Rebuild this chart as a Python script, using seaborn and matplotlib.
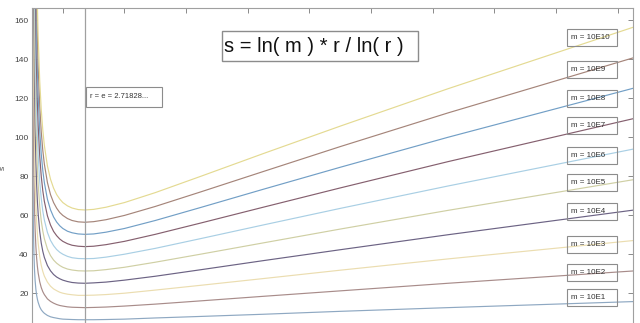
import numpy as np
import pandas as pd
import matplotlib
matplotlib.use("Agg")
import matplotlib.pyplot as plt
from matplotlib.patches import Rectangle
import seaborn as sns

# ---- data ----
r_vals = [1.01, 1.02, 1.03, 1.045, 1.06, 1.08, 1.1, 1.125, 1.15, 1.175, 1.2,
          1.25, 1.3, 1.35, 1.4, 1.5, 1.6, 1.7, 1.8, 1.9, 2.0, 2.15, 2.3, 2.5,
          2.718, 3.0, 3.4, 4, 5, 6.5, 8.5, 11, 14.5, 20.5]

m_labels = ["m = 10E1", "m = 10E2", "m = 10E3", "m = 10E4", "m = 10E5",
            "m = 10E6", "m = 10E7", "m = 10E8", "m = 10E9", "m = 10E10"]

s_m1 = [233.7, 118.6, 80.3, 54.7, 41.9, 32.3, 26.6, 22.0, 18.9, 16.8, 15.2,
        12.9, 11.4, 10.4, 9.6, 8.5, 7.8, 7.4, 7.1, 6.8, 6.6, 6.5, 6.4, 6.3,
        6.3, 6.3, 6.4, 6.6, 7.2, 8.0, 9.1, 10.6, 12.5, 15.6]
s_m2 = [467, 237.2, 160.5, 109.3, 83.8, 64.6, 53.1, 44.0, 37.9, 33.6, 30.3,
        25.8, 22.8, 20.7, 19.2, 17.0, 15.7, 14.8, 14.1, 13.6, 13.3, 12.9, 12.7, 12.6,
        12.5, 12.6, 12.8, 13.3, 14.3, 16.0, 18.3, 21.1, 25.0, 31.3]
s_m3 = [701, 355.8, 240.7, 164.0, 125.7, 96.9, 79.7, 66.0, 56.8, 50.3, 45.5,
        38.7, 34.2, 31.1, 28.7, 25.6, 23.5, 22.1, 21.2, 20.4, 19.9, 19.4, 19.1, 18.8,
        18.8, 18.9, 19.2, 19.9, 21.5, 24.0, 27.4, 31.7, 37.5, 46.9]
s_m4 = [935, 474.4, 321, 218.6, 167.5, 129.2, 106.3, 88.0, 75.8, 67.1, 60.6,
        51.6, 45.6, 41.4, 38.3, 34.1, 31.4, 29.5, 28.2, 27.3, 26.6, 25.9, 25.4, 25.1,
        25.0, 25.2, 25.6, 26.6, 28.6, 32.0, 36.6, 42.2, 49.9, 62.5]
s_m5 = [1169, 593.0, 401, 273.3, 209.4, 161.6, 132.9, 110.0, 94.7, 83.9, 75.8,
        64.5, 57.0, 51.8, 47.9, 42.6, 39.2, 36.9, 35.3, 34.1, 33.2, 32.3, 31.8, 31.4,
        31.3, 31.4, 32.0, 33.2, 35.8, 40.0, 45.7, 52.8, 62.4, 78.1]
s_m6 = [1402, 711.6, 481, 328.0, 251.3, 193.9, 159.4, 132.0, 113.7, 100.7, 90.9,
        77.4, 68.5, 62.1, 57.5, 51.1, 47.0, 44.3, 42.3, 40.9, 39.9, 38.8, 38.1, 37.7,
        37.6, 37.7, 38.4, 39.9, 42.9, 48.0, 54.9, 63.4, 74.9, 93.8]
s_m7 = [1636, 830.2, 562, 382.6, 293.2, 226.2, 186.0, 153.9, 132.6, 117.4, 106.1,
        90.3, 79.9, 72.5, 67.1, 59.6, 54.9, 51.6, 49.4, 47.7, 46.5, 45.3, 44.5, 44.0,
        43.8, 44.0, 44.8, 46.5, 50.1, 56.0, 64.0, 73.9, 87.4, 109.4]
s_m8 = [1870, 948.8, 642, 437.3, 335.1, 258.5, 212.6, 175.9, 151.6, 134.2, 121.2,
        103.2, 91.3, 82.9, 76.7, 68.1, 62.7, 59.0, 56.4, 54.5, 53.1, 51.7, 50.9, 50.3,
        50.1, 50.3, 51.2, 53.1, 57.2, 64.0, 73.2, 84.5, 99.9, 125.0]
s_m9 = [2103, 1067.5, 722, 492.0, 377.0, 290.8, 239.1, 197.9, 170.5, 151.0, 136.4,
        116.1, 102.7, 93.2, 86.2, 76.7, 70.5, 66.4, 63.5, 61.3, 59.8, 58.2, 57.2, 56.5,
        56.3, 56.6, 57.6, 59.8, 64.4, 72.0, 82.3, 95.1, 112.4, 140.6]
s_m10 = [2337, 1186.1, 802, 546.6, 418.8, 323.1, 265.7, 219.9, 189.5, 167.8, 151.6,
         129.0, 114.1, 103.6, 95.8, 85.2, 78.4, 73.8, 70.5, 68.2, 66.4, 64.7, 63.6, 62.8,
         62.6, 62.9, 64.0, 66.4, 71.5, 80.0, 91.5, 105.6, 124.8, 156.3]

series = [s_m1, s_m2, s_m3, s_m4, s_m5, s_m6, s_m7, s_m8, s_m9, s_m10]

y_ticks = [20, 40, 60, 80, 100, 120, 140, 160]
x_ticks = [2, 4, 6, 8, 10, 12, 14, 16, 18, 20]

# ---- styling ----
sns.set_theme(style="white")
plt.rcParams["font.family"] = ["Liberation Sans", "DejaVu Sans"]

colors = ["#8ea8c2", "#a88c8a", "#ebddb0", "#6c6384", "#cfcfa4",
          "#a9cfe4", "#85606f", "#729fc6", "#a5857a", "#e4da92"]

rows = []
for lab, vals in zip(m_labels, series):
    for rv, sv in zip(r_vals, vals):
        rows.append({"r": rv, "s": sv, "m": lab})
df = pd.DataFrame(rows)

fig = plt.figure(figsize=(6.4, 3.23), dpi=100)
W, H = 640, 323
ax = fig.add_axes([32 / W, -9 / H, 601 / W, 324 / H])

sns.lineplot(data=df, x="r", y="s", hue="m", hue_order=m_labels,
             palette=colors, legend=False, estimator=None, sort=False,
             linewidth=0.85, ax=ax)

ax.set_xlim(1, 20.5)
ax.set_ylim(0, 166.2)
ax.axvline(np.e, color="#a0a0a0", linewidth=0.9)

ax.set_yticks(y_ticks)
ax.set_yticklabels([str(t) for t in y_ticks])
ax.set_xticks(x_ticks)
ax.tick_params(axis="both", direction="in", length=3.5, width=0.7,
               color="#8a8a8a", labelsize=6, labelcolor="#444444", pad=2.5,
               top=True, right=True, bottom=True, left=True,
               labelbottom=False)
for sp in ax.spines.values():
    sp.set_color("#a0a0a0")
    sp.set_linewidth(0.8)

ax.set_xlabel("")
ax.set_ylabel("s", fontsize=6, color="#444444")
ax.yaxis.set_label_coords(-0.042, 0.506)

def fx(px):
    return px / W

def fy(py):
    return 1 - py / H

# title box
fig.patches.append(Rectangle((fx(222), fy(61)), (418 - 222) / W, 30 / H,
                             transform=fig.transFigure, fill=True,
                             facecolor="white", edgecolor="#8c8c8c",
                             linewidth=1.0))
fig.text(fx(224), fy(46), "s = ln( m ) * r / ln( r )", fontsize=14.5,
         ha="left", va="center", color="#111111")

# r = e box
fig.patches.append(Rectangle((fx(86), fy(107)), 76 / W, 20 / H,
                             transform=fig.transFigure, fill=True,
                             facecolor="white", edgecolor="#8c8c8c",
                             linewidth=0.8))
fig.text(fx(90), fy(97), "r = e = 2.71828...", fontsize=5.5,
         ha="left", va="center", color="#333333")

# m label boxes
box_tops = [289, 264, 236, 203, 174, 147, 117, 90, 61, 29]
for lab, top in zip(m_labels, box_tops):
    fig.patches.append(Rectangle((fx(567), fy(top + 17)), 50 / W, 17 / H,
                                 transform=fig.transFigure, fill=False,
                                 edgecolor="#8c8c8c", linewidth=0.8))
    fig.text(fx(571), fy(top + 8.5), lab, fontsize=5.8, ha="left",
             va="center", color="#333333")

fig.savefig("out.png", dpi=100)
